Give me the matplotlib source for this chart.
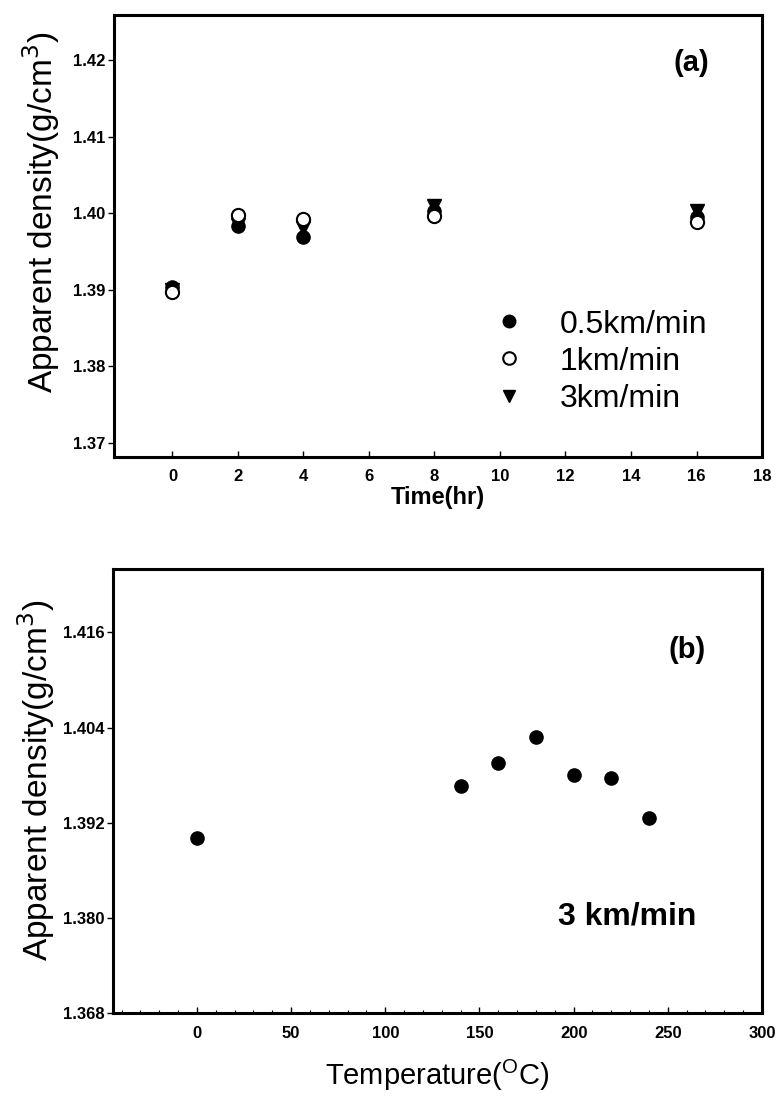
import numpy as np
import matplotlib
matplotlib.use("Agg")
import matplotlib.pyplot as plt
from matplotlib.ticker import MultipleLocator

plt.rcParams['font.family'] = ['Liberation Sans', 'DejaVu Sans']

# (a) density vs time for three draw speeds
time_hr = [0, 2, 4, 8, 16]
dens_05 = [1.3904, 1.3983, 1.3969, 1.4003, 1.3995]
dens_1 = [1.3897, 1.3998, 1.3993, 1.3997, 1.3989]
dens_3 = [1.3900, 1.3985, 1.3981, 1.4010, 1.4003]
labels_a = ['0.5km/min', '1km/min', '3km/min']

# (b) density vs temperature at 3 km/min
temp_c = [0, 140, 160, 180, 200, 220, 240]
dens_t = [1.3901, 1.3967, 1.3996, 1.4028, 1.3981, 1.3976, 1.3926]

fig = plt.figure(figsize=(7.77, 11.07), dpi=100)
ax1 = fig.add_axes([0.1461, 0.5874, 0.8346, 0.3991])
ax2 = fig.add_axes([0.1458, 0.0846, 0.8349, 0.4014])

for ax in (ax1, ax2):
    for s in ax.spines.values():
        s.set_linewidth(2.2)
    ax.tick_params(axis='y', direction='out', length=4, width=1, pad=2, labelsize=12)
    ax.tick_params(axis='x', direction='in', length=4, width=1, pad=9, labelsize=12)

# panel (a)
ax1.plot(time_hr, dens_05, 'o', color='black', ms=9.5, label=labels_a[0], zorder=3)
ax1.plot(time_hr, dens_1, 'o', mfc='white', mec='black', mew=1.5, ms=9.5, label=labels_a[1], zorder=4)
ax1.plot(time_hr, dens_3, 'v', color='black', ms=9.5, label=labels_a[2], zorder=2)
ax1.set_xlim(-1.8, 18)
ax1.set_ylim(1.3682, 1.4259)
ax1.set_yticks([1.37, 1.38, 1.39, 1.40, 1.41, 1.42])
ax1.set_yticklabels(['1.37', '1.38', '1.39', '1.40', '1.41', '1.42'], fontweight='bold')
ax1.set_xticks(range(0, 19, 2))
ax1.set_xticklabels([str(v) for v in range(0, 19, 2)], fontweight='bold')
ax1.set_xlabel('Time(hr)', fontsize=17, fontweight='bold', labelpad=1)
ax1.set_ylabel('Apparent density(g/cm$^3$)', fontsize=24)
ax1.yaxis.set_label_coords(-0.079, 0.552)
ax1.text(0.8905, 0.891, '(a)', transform=ax1.transAxes, fontsize=21,
         fontweight='bold', ha='center', va='center')
ax1.legend(loc='upper left', bbox_to_anchor=(0.585, 0.333), frameon=False,
           fontsize=23, handlelength=1, handletextpad=1.1, labelspacing=0.22,
           borderpad=0, borderaxespad=0, markerscale=0.95)

# panel (b)
ax2.plot(temp_c, dens_t, 'o', color='black', ms=9.5)
ax2.set_xlim(-44.4, 300)
ax2.set_ylim(1.368, 1.424)
ax2.set_xticks([0, 50, 100, 150, 200, 250, 300])
ax2.set_xticklabels(['0', '50', '100', '150', '200', '250', '300'], fontweight='bold')
ax2.xaxis.set_minor_locator(MultipleLocator(10))
ax2.tick_params(axis='x', which='minor', direction='in', length=2, width=0.8)
ax2.set_yticks([1.368, 1.380, 1.392, 1.404, 1.416])
ax2.set_yticklabels(['1.368', '1.380', '1.392', '1.404', '1.416'], fontweight='bold')
ax2.set_xlabel('Temperature($^{\\mathregular{O}}$C)', fontsize=21, labelpad=12)
ax2.set_ylabel('Apparent density(g/cm$^3$)', fontsize=24)
ax2.yaxis.set_label_coords(-0.086, 0.525)
ax2.text(0.8844, 0.8177, '(b)', transform=ax2.transAxes, fontsize=21,
         fontweight='bold', ha='center', va='center')
ax2.text(0.7919, 0.2174, '3 km/min', transform=ax2.transAxes, fontsize=23,
         fontweight='bold', ha='center', va='center')

fig.savefig('out.png', dpi=100)
